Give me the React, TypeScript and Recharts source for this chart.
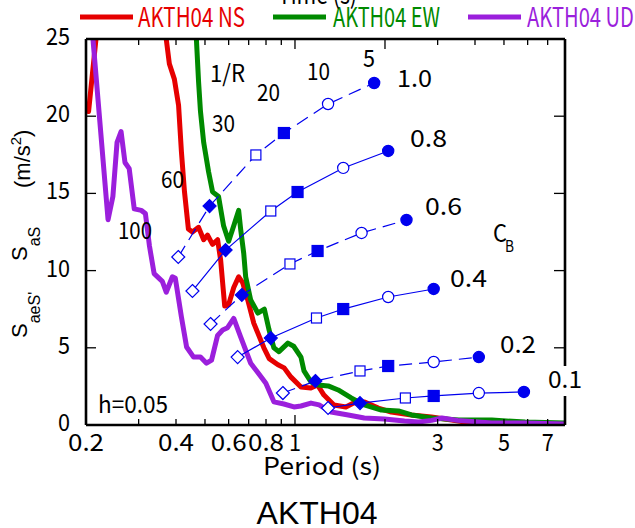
import React from 'react';
import { ComposedChart, Line, XAxis, YAxis } from 'recharts';

// response spectra, h = 0.05 (period s, Sa m/s2)
const nsPeriod = [0.2, 0.204, 0.216, 0.26, 0.33, 0.371, 0.38, 0.395, 0.408, 0.417, 0.427, 0.44, 0.454, 0.476, 0.495, 0.51, 0.53, 0.551, 0.564, 0.582, 0.6, 0.624, 0.648, 0.669, 0.695, 0.728, 0.787, 0.82, 0.877, 0.92, 0.97, 1.047, 1.13, 1.19, 1.25, 1.35, 1.48, 1.57, 1.71, 1.9, 2.1, 2.45, 2.86, 3.34, 3.7, 4.56, 5.88, 8.0];
const nsSa = [20.9, 20.3, 25.0, 33, 32, 25.0, 23.4, 22.4, 20.7, 17.7, 15.1, 12.7, 12.5, 12.8, 12.0, 12.3, 11.7, 12.0, 10.7, 7.7, 7.8, 8.9, 9.6, 9.2, 8.1, 6.6, 5.0, 4.3, 3.9, 3.7, 3.1, 2.46, 2.4, 2.59, 1.94, 1.3, 1.17, 1.42, 1.49, 1.1, 0.84, 0.65, 0.52, 0.32, 0.19, 0.13, 0.1, 0.06];

const ewPeriod = [0.4, 0.468, 0.476, 0.483, 0.495, 0.514, 0.53, 0.555, 0.577, 0.6, 0.624, 0.648, 0.658, 0.674, 0.684, 0.711, 0.751, 0.79, 0.818, 0.85, 0.884, 0.947, 0.99, 1.047, 1.072, 1.131, 1.194, 1.291, 1.395, 1.542, 1.705, 1.945, 2.218, 2.454, 2.864, 3.53, 4.556, 5.882, 8.0];
const ewSa = [34, 25.0, 22.2, 20.3, 18.3, 16.4, 15.1, 14.8, 12.9, 11.9, 12.9, 13.9, 12.7, 11.1, 9.6, 8.1, 7.25, 7.5, 6.2, 5.0, 4.75, 5.3, 5.1, 4.4, 3.5, 2.79, 2.59, 2.53, 2.27, 1.75, 1.3, 0.97, 0.91, 0.65, 0.45, 0.32, 0.32, 0.19, 0.13];

const udPeriod = [0.2, 0.211, 0.237, 0.246, 0.254, 0.262, 0.27, 0.279, 0.29, 0.306, 0.316, 0.326, 0.338, 0.36, 0.371, 0.389, 0.398, 0.417, 0.434, 0.458, 0.483, 0.506, 0.526, 0.551, 0.573, 0.595, 0.624, 0.658, 0.711, 0.751, 0.799, 0.85, 0.918, 0.992, 1.047, 1.131, 1.204, 1.321, 1.507, 1.705, 1.991, 2.323, 2.59, 2.864, 3.1, 3.5, 4.556, 5.882, 8.0];
const udSa = [28, 25.0, 13.3, 14.8, 18.3, 19.0, 17.0, 16.6, 14.0, 13.9, 13.7, 11.6, 9.8, 9.3, 8.6, 9.6, 9.5, 7.0, 5.05, 4.4, 4.4, 4.0, 4.2, 5.8, 6.15, 6.3, 6.9, 5.7, 4.0, 3.4, 2.7, 1.5, 1.36, 1.17, 1.23, 1.42, 1.3, 0.84, 0.65, 0.45, 0.39, 0.26, 0.19, 0.3, 0.45, 0.3, 0.13, 0.13, 0.06];

// constant-strength curves, points for 1/R = 100, 60, 30, 20, 10, 5
const cb10Period = [0.407, 0.518, 0.74, 0.918, 1.29, 1.84];
const cb10Sa = [10.88, 14.18, 17.49, 18.91, 20.79, 22.15];
const cb08Period = [0.454, 0.586, 0.83, 1.02, 1.45, 2.05];
const cb08Sa = [8.68, 11.33, 13.86, 15.09, 16.65, 17.75];
const cb06Period = [0.522, 0.664, 0.962, 1.19, 1.67, 2.36];
const cb06Sa = [6.54, 8.42, 10.43, 11.27, 12.44, 13.28];
const cb04Period = [0.643, 0.83, 1.18, 1.45, 2.05, 2.91];
const cb04Sa = [4.4, 5.63, 6.93, 7.51, 8.29, 8.81];
const cb02Period = [0.911, 1.17, 1.65, 2.05, 2.91, 4.12];
const cb02Sa = [2.07, 2.85, 3.5, 3.82, 4.08, 4.4];
const cb01Period = [1.29, 1.65, 2.34, 2.91, 4.12, 5.83];
const cb01Sa = [1.1, 1.42, 1.75, 1.88, 2.07, 2.14];

const xTicks = [0.2, 0.3, 0.4, 0.5, 0.6, 0.7, 0.8, 0.9, 1, 2, 3, 4, 5, 6, 7];
const xTickLabels: Record<string, string> = { '0.2': '0.2', '0.4': '0.4', '0.6': '0.6', '0.8': '0.8', '1': '1', '3': '3', '5': '5', '7': '7' };
const yTicks = [0, 5, 10, 15, 20, 25];

const MONO = '"Noto Sans CJK JP", "Noto Sans", sans-serif';
const BLUE = '#0000ee';

const toRows = (xs: number[], ys: number[]) => xs.map((x, i) => ({ x, y: ys[i] }));

const spectra = [
  { name: 'AKTH04 NS', color: '#e60000', data: toRows(nsPeriod, nsSa) },
  { name: 'AKTH04 EW', color: '#008a00', data: toRows(ewPeriod, ewSa) },
  { name: 'AKTH04 UD', color: '#9b1fdc', data: toRows(udPeriod, udSa) },
];

const cbCurves = [
  { cb: '1.0', dashed: true, data: toRows(cb10Period, cb10Sa) },
  { cb: '0.8', dashed: false, data: toRows(cb08Period, cb08Sa) },
  { cb: '0.6', dashed: true, data: toRows(cb06Period, cb06Sa) },
  { cb: '0.4', dashed: false, data: toRows(cb04Period, cb04Sa) },
  { cb: '0.2', dashed: true, data: toRows(cb02Period, cb02Sa) },
  { cb: '0.1', dashed: false, data: toRows(cb01Period, cb01Sa) },
];

const Mono = ({ x, y, w, size = 24, fill = '#000', anchor = 'start', children }: any) => (
  <text x={x} y={y} fontSize={size} fontFamily={MONO} fill={fill} textAnchor={anchor}
    textLength={w} lengthAdjust="spacingAndGlyphs">{children}</text>
);

const BottomTick = ({ x, y, payload }: any) => {
  const v = payload.value;
  const label = xTickLabels[String(v)];
  return (
    <g>
      {v > 0.2 && <line x1={x} x2={x} y1={y} y2={y - (v === 1 ? 10 : 6)} stroke="#000" strokeWidth={1.3} />}
      {label && <Mono x={x} y={y + 26} w={label.length * 12} anchor="middle">{label}</Mono>}
    </g>
  );
};

const TopTick = ({ x, y, payload }: any) => {
  const v = payload.value;
  if (v <= 0.2) return null;
  return <line x1={x} x2={x} y1={y} y2={y + (v === 1 || v === 2 ? 10 : 6)} stroke="#000" strokeWidth={1.3} />;
};

const LeftTick = ({ x, y, payload }: any) => {
  const v = payload.value;
  const s = String(v);
  return (
    <g>
      {v > 0 && v < 25 && <line x1={x} x2={x + 10} y1={y} y2={y} stroke="#000" strokeWidth={1.3} />}
      <Mono x={x - 16} y={y + 6} w={s.length * 12} anchor="end">{s}</Mono>
    </g>
  );
};

const RightTick = ({ x, y, payload }: any) => {
  const v = payload.value;
  if (v <= 0 || v >= 25) return null;
  return <line x1={x} x2={x - 11} y1={y} y2={y} stroke="#000" strokeWidth={1.3} />;
};

// marker per 1/R column: open/filled diamond, square, circle
const renderMarker = (p: any) => {
  const { cx, cy, index } = p;
  const key = `m-${index}`;
  if (cx == null || cy == null) return <g key={key} />;
  const filled = index % 2 === 1;
  const fill = filled ? BLUE : '#fff';
  const shape = Math.floor(index / 2);
  if (shape === 0) {
    const r = 6.5;
    return <polygon key={key} points={`${cx},${cy - r} ${cx + r},${cy} ${cx},${cy + r} ${cx - r},${cy}`} fill={fill} stroke={BLUE} strokeWidth={1.2} />;
  }
  if (shape === 1) {
    const h = filled ? 5.5 : 5;
    return <rect key={key} x={cx - h} y={cy - h} width={2 * h} height={2 * h} fill={fill} stroke={BLUE} strokeWidth={1.2} />;
  }
  return <circle key={key} cx={cx} cy={cy} r={5.6} fill={fill} stroke={BLUE} strokeWidth={1.2} />;
};

const axisLine = { stroke: '#000', strokeWidth: 2.6 };

export default function App() {
  return (
    <div style={{ position: 'absolute', left: 0, top: 0, width: 635, height: 528, background: '#fff', overflow: 'hidden' }}>
      <ComposedChart width={635} height={528} margin={{ top: 29, right: 60, bottom: 63, left: 26 }}>
        <XAxis xAxisId="b" type="number" dataKey="x" scale="log" domain={[0.2, 8]} allowDataOverflow
          ticks={xTicks} interval={0} tick={<BottomTick />} tickLine={false} tickSize={0} tickMargin={0}
          axisLine={axisLine} height={40} orientation="bottom" />
        <XAxis xAxisId="t" type="number" dataKey="x" scale="log" domain={[0.2, 8]} allowDataOverflow
          ticks={xTicks} interval={0} tick={<TopTick />} tickLine={false} tickSize={0} tickMargin={0}
          axisLine={axisLine} height={10} orientation="top" />
        <YAxis yAxisId="l" type="number" domain={[0, 25]} allowDataOverflow ticks={yTicks} interval={0}
          tick={<LeftTick />} tickLine={false} tickSize={0} tickMargin={0} axisLine={axisLine} width={60} />
        <YAxis yAxisId="r" orientation="right" type="number" domain={[0, 25]} allowDataOverflow ticks={yTicks} interval={0}
          tick={<RightTick />} tickLine={false} tickSize={0} tickMargin={0} axisLine={axisLine} width={10} />
        {spectra.map((s) => (
          <Line key={s.name} xAxisId="b" yAxisId="l" data={s.data} dataKey="y" type="linear"
            stroke={s.color} strokeWidth={5} strokeLinejoin="round" dot={false} isAnimationActive={false} />
        ))}
        {cbCurves.map((c) => (
          <Line key={c.cb} xAxisId="b" yAxisId="l" data={c.data} dataKey="y" type="linear"
            stroke={BLUE} strokeWidth={1.2} strokeDasharray={c.dashed ? '13 7' : undefined}
            dot={renderMarker} isAnimationActive={false} />
        ))}
      </ComposedChart>

      <svg width={635} height={528} style={{ position: 'absolute', left: 0, top: 0, pointerEvents: 'none' }}>
        {/* legend */}
        {spectra.map((s, i) => {
          const lx = [80, 273, 468][i];
          const tx = [138, 333, 527][i];
          return (
            <g key={s.name}>
              <line x1={lx} x2={lx + 53} y1={17} y2={17} stroke={s.color} strokeWidth={5} />
              <Mono x={tx} y={27} w={107} size={27} fill={s.color}>{s.name}</Mono>
            </g>
          );
        })}
        <Mono x={278} y={4} w={79} size={26}>Time (s)</Mono>

        {/* 1/R labels */}
        <Mono x={210} y={82} w={35}>1/R</Mono>
        <Mono x={118} y={239} w={34}>100</Mono>
        <Mono x={161} y={188} w={23}>60</Mono>
        <Mono x={212} y={132} w={23}>30</Mono>
        <Mono x={257} y={101} w={23}>20</Mono>
        <Mono x={307} y={80} w={23}>10</Mono>
        <Mono x={363} y={67} w={12}>5</Mono>

        {/* C_B labels */}
        <Mono x={397} y={87} w={35}>1.0</Mono>
        <Mono x={410} y={147} w={37}>0.8</Mono>
        <Mono x={425} y={215} w={37}>0.6</Mono>
        <Mono x={450} y={287} w={37}>0.4</Mono>
        <Mono x={500} y={353} w={36}>0.2</Mono>
        <rect x={544} y={366} width={40} height={30} fill="#fff" />
        <Mono x={548} y={388} w={34}>0.1</Mono>
        <Mono x={493} y={242} w={14}>C</Mono>
        <Mono x={505} y={252} w={9} size={16}>B</Mono>

        <Mono x={98} y={413} w={70}>h=0.05</Mono>

        {/* axis titles */}
        <Mono x={322} y={475} w={118} anchor="middle">Period (s)</Mono>
        <text x={317} y={524} fontSize={32} fontFamily="'Liberation Sans', Arial, sans-serif" textAnchor="middle">AKTH04</text>

        <g fontFamily="'Liberation Sans', Arial, sans-serif" fill="#000">
          <text transform="translate(27,338) rotate(-90)" fontSize={22}>
            S<tspan fontSize={16} dy={13}>aeS'</tspan>
          </text>
          <text transform="translate(27,261) rotate(-90)" fontSize={22}>
            S<tspan fontSize={16} dy={13}>aS</tspan>
          </text>
          <text transform="translate(30,188) rotate(-90)" fontSize={22}>
            (m/s<tspan fontSize={15} dy={-9}>2</tspan><tspan dy={9}>)</tspan>
          </text>
        </g>
      </svg>
    </div>
  );
}
